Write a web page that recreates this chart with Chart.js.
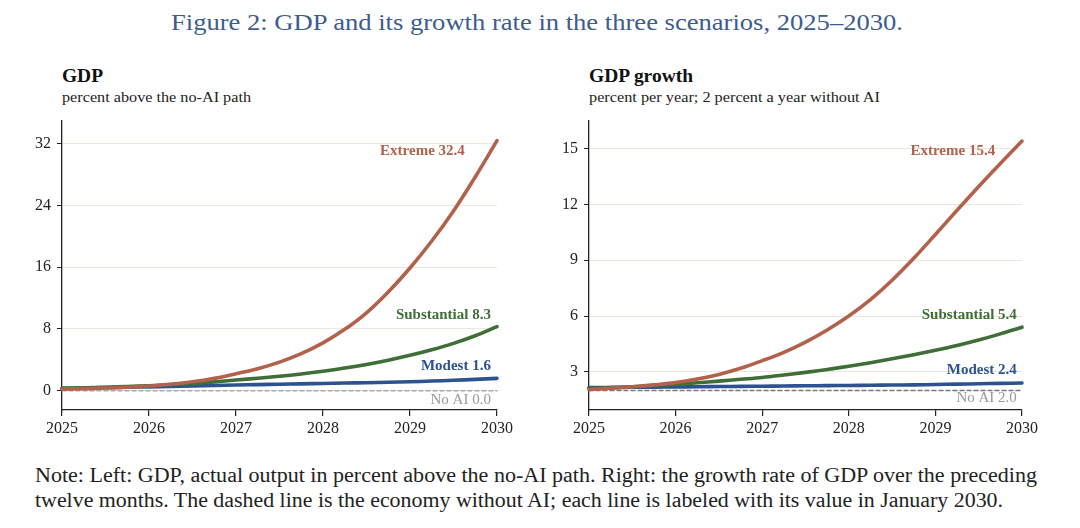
<!DOCTYPE html>
<html>
<head>
<meta charset="utf-8">
<script src="https://cdn.jsdelivr.net/npm/chart.js@4.4.1/dist/chart.umd.min.js"></script>
<style>
  body { margin: 0; background: #fff; }
  #page { position: relative; width: 1080px; height: 528px; overflow: hidden; font-family: 'Liberation Serif', serif; color: #222; }
  .txt { position: absolute; white-space: nowrap; display: inline-block; transform-origin: left top; }
  canvas { position: absolute; }
</style>
</head>
<body>
<div id="page">
  <div class="txt" id="fig-title" style="left:171px; top:8px; font-size:24px; line-height:28px; color:#3d5c8f;">Figure 2: GDP and its growth rate in the three scenarios, 2025–2030.</div>

  <div class="txt" id="l-head" style="left:62px; top:65px; font-size:19px; line-height:22px; font-weight:bold; color:#111;">GDP</div>
  <div class="txt" id="l-sub" style="left:62px; top:88px; font-size:15.5px; line-height:18px;">percent above the no-AI path</div>
  <div class="txt" id="r-head" style="left:589px; top:65px; font-size:19px; line-height:22px; font-weight:bold; color:#111;">GDP growth</div>
  <div class="txt" id="r-sub" style="left:589px; top:88px; font-size:15.5px; line-height:18px;">percent per year; 2 percent a year without AI</div>

  <canvas id="gdp-chart" width="540" height="345" style="left:0px; top:105px;"></canvas>
  <canvas id="growth-chart" width="552" height="345" style="left:528px; top:105px;"></canvas>

  <div class="txt" id="note1" style="left:35px; top:463px; font-size:20px; line-height:24px;">Note: Left: GDP, actual output in percent above the no-AI path. Right: the growth rate of GDP over the preceding</div>
  <div class="txt" id="note2" style="left:35px; top:488px; font-size:20px; line-height:24px;">twelve months. The dashed line is the economy without AI; each line is labeled with its value in January 2030.</div>
</div>

<script>
// quarterly dates
var dates = [2025, 2025.25, 2025.5, 2025.75, 2026, 2026.25, 2026.5, 2026.75, 2027, 2027.25, 2027.5,
             2027.75, 2028, 2028.25, 2028.5, 2028.75, 2029, 2029.25, 2029.5, 2029.75, 2030];
var yearTicks = [2025, 2026, 2027, 2028, 2029, 2030];

// left panel: GDP, percent above the no-AI path
var gdpExtreme     = [0.2, 0.27, 0.35, 0.45, 0.6, 0.85, 1.15, 1.6, 2.2, 2.85, 3.7, 4.8, 6.2, 7.95, 10.1, 12.8, 15.9, 19.4, 23.3, 27.7, 32.4];
var gdpSubstantial = [0.3, 0.37, 0.45, 0.54, 0.65, 0.78, 0.94, 1.14, 1.38, 1.62, 1.87, 2.17, 2.52, 2.93, 3.4, 3.95, 4.58, 5.3, 6.13, 7.12, 8.3];
var gdpModest      = [0.3, 0.35, 0.4, 0.45, 0.5, 0.56, 0.62, 0.68, 0.74, 0.79, 0.84, 0.89, 0.94, 0.99, 1.04, 1.1, 1.16, 1.25, 1.35, 1.47, 1.6];
var gdpNoAI        = [0, 0, 0, 0, 0, 0, 0, 0, 0, 0, 0, 0, 0, 0, 0, 0, 0, 0, 0, 0, 0];
var gdpTicks = [0, 8, 16, 24, 32];

// right panel: GDP growth, percent per year
var growthExtreme     = [2.05, 2.12, 2.2, 2.3, 2.42, 2.61, 2.86, 3.19, 3.6, 4.05, 4.6, 5.25, 6.0, 6.88, 7.92, 9.1, 10.38, 11.68, 12.96, 14.2, 15.4];
var growthSubstantial = [2.1, 2.15, 2.2, 2.26, 2.33, 2.41, 2.5, 2.6, 2.7, 2.83, 2.97, 3.13, 3.3, 3.49, 3.7, 3.92, 4.16, 4.42, 4.71, 5.04, 5.4];
var growthModest      = [2.15, 2.16, 2.17, 2.18, 2.19, 2.2, 2.21, 2.22, 2.23, 2.24, 2.25, 2.26, 2.27, 2.28, 2.29, 2.3, 2.32, 2.34, 2.36, 2.38, 2.4];
var growthNoAI        = [2, 2, 2, 2, 2, 2, 2, 2, 2, 2, 2, 2, 2, 2, 2, 2, 2, 2, 2, 2, 2];
var growthTicks = [3, 6, 9, 12, 15];

var seriesNames = ['Extreme', 'Substantial', 'Modest', 'No AI'];
var gdpEnd    = ['32.4', '8.3', '1.6', '0.0'];
var growthEnd = ['15.4', '5.4', '2.4', '2.0'];

var colors = {
    'Extreme': '#b2614b',
    'Substantial': '#3f6e37',
    'Modest': '#2d5291',
    'No AI': '#aaaaaa'
};
var SERIF = "'Liberation Serif', 'Times New Roman', serif";

function toPoints(values) {
    return values.map(function (v, i) {
        return { x: dates[i], y: v };
    });
}

function line(name, values, dashColor) {
    var noAI = name === 'No AI';
    return {
        label: name,
        data: toPoints(values),
        borderColor: noAI ? dashColor : colors[name],
        borderWidth: noAI ? 1.5 : 3.6,
        borderDash: noAI ? [4, 3] : [],
        borderCapStyle: 'round',
        borderJoinStyle: 'round',
        pointRadius: 0,
        tension: 0.35,
        clip: false,
        order: noAI ? 4 : seriesNames.indexOf(name)
    };
}

// end-of-line labels, placed in data coordinates: [x, y]
var endLabelPlugin = {
    id: 'endLabels',
    afterDatasetsDraw: function (chart, args, opts) {
        var ctx = chart.ctx;
        ctx.save();
        ctx.textAlign = 'right';
        ctx.textBaseline = 'middle';
        opts.items.forEach(function (it) {
            var px = chart.scales.x.getPixelForValue(it.at[0]);
            var py = chart.scales.y.getPixelForValue(it.at[1]);
            var noAI = it.name === 'No AI';
            ctx.font = (noAI ? '' : 'bold ') + '15px ' + SERIF;
            ctx.fillStyle = noAI ? '#9a9a9a' : colors[it.name];
            ctx.fillText(it.name + ' ' + it.value, px, py);
        });
        ctx.restore();
    }
};

function makeChart(id, datasets, yMin, yMax, yTicks, labels, yWidth, padRight) {
    var ctx = document.getElementById(id).getContext('2d');
    return new Chart(ctx, {
        type: 'line',
        data: { datasets: datasets },
        plugins: [endLabelPlugin],
        options: {
            responsive: false,
            animation: false,
            layout: { padding: { top: 8, right: padRight, left: 0, bottom: 0 } },
            plugins: {
                legend: { display: false },
                tooltip: { enabled: false },
                endLabels: { items: labels }
            },
            scales: {
                x: {
                    type: 'linear',
                    min: 2025,
                    max: 2030,
                    afterBuildTicks: function (scale) {
                        scale.ticks = yearTicks.map(function (v) { return { value: v }; });
                    },
                    afterFit: function (scale) { scale.height = 40; },
                    ticks: {
                        callback: function (v) { return String(v); },
                        font: { family: SERIF, size: 16 },
                        color: '#222',
                        padding: 3,
                        maxRotation: 0
                    },
                    grid: { drawOnChartArea: false, tickLength: 6, color: '#222', lineWidth: 1.2 },
                    border: { color: '#222', width: 1.3 }
                },
                y: {
                    min: yMin,
                    max: yMax,
                    afterBuildTicks: function (scale) {
                        scale.ticks = yTicks.map(function (v) { return { value: v }; });
                    },
                    afterFit: function (scale) { scale.width = yWidth; },
                    ticks: {
                        font: { family: SERIF, size: 16 },
                        color: '#222',
                        padding: 6
                    },
                    grid: { color: '#ebe7dc', lineWidth: 1, tickLength: 5, tickColor: '#222' },
                    border: { color: '#222', width: 1.3 }
                }
            }
        }
    });
}

makeChart('gdp-chart', [
    line('No AI', gdpNoAI, '#aaaaaa'),
    line('Modest', gdpModest),
    line('Substantial', gdpSubstantial),
    line('Extreme', gdpExtreme)
], -2.5, 35, gdpTicks, [
    { name: 'Extreme', value: gdpEnd[0], at: [2029.63, 31.0] },
    { name: 'Substantial', value: gdpEnd[1], at: [2029.93, 9.75] },
    { name: 'Modest', value: gdpEnd[2], at: [2029.93, 3.15] },
    { name: 'No AI', value: gdpEnd[3], at: [2029.93, -1.15] }
], 62, 43);

makeChart('growth-chart', [
    line('No AI', growthNoAI, '#7a7a7a'),
    line('Modest', growthModest),
    line('Substantial', growthSubstantial),
    line('Extreme', growthExtreme)
], 0.95, 16.5, growthTicks, [
    { name: 'Extreme', value: growthEnd[0], at: [2029.69, 14.86] },
    { name: 'Substantial', value: growthEnd[1], at: [2029.94, 6.05] },
    { name: 'Modest', value: growthEnd[2], at: [2029.94, 3.07] },
    { name: 'No AI', value: growthEnd[3], at: [2029.94, 1.58] }
], 61, 58);

// squeeze each text line to the width it has in the figure
function fitWidth(id, target) {
    var el = document.getElementById(id);
    var w = el.getBoundingClientRect().width;
    if (w > 0) el.style.transform = 'scaleX(' + (target / w) + ')';
}
fitWidth('fig-title', 732);
fitWidth('l-head', 41);
fitWidth('l-sub', 189);
fitWidth('r-head', 104);
fitWidth('r-sub', 291);
fitWidth('note1', 1002);
fitWidth('note2', 968);
</script>
</body>
</html>
